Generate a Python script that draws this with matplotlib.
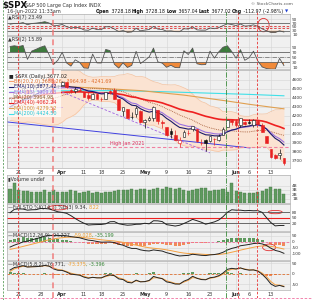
import numpy as np
import matplotlib
matplotlib.use("Agg")
import matplotlib.pyplot as plt
from matplotlib.patches import Ellipse
from matplotlib.lines import Line2D

# ---------------- data ----------------
# closes before the visible window (Jan 3 - Mar 16 2022), used for indicator warm-up
warm_closes = [4796.56, 4793.54, 4700.58, 4696.05, 4677.03, 4670.29, 4713.07, 4726.35, 4659.03, 4662.85,
               4577.11, 4532.76, 4482.73, 4397.94, 4410.13, 4356.45, 4349.93, 4326.51, 4431.85, 4515.55,
               4546.54, 4589.38, 4477.44, 4500.53, 4483.87, 4521.54, 4587.18, 4504.08, 4418.64, 4401.67,
               4471.07, 4475.01, 4380.26, 4348.87, 4304.76, 4225.50, 4288.70, 4384.65, 4373.94,
               4306.26, 4386.54, 4363.49, 4328.87, 4201.09, 4170.70, 4277.88, 4259.52, 4204.31, 4173.11,
               4262.45, 4357.86]

# visible daily candles, Mar 17 - Jun 16 2022
opens = [4345.11, 4407.34, 4462.40, 4469.10, 4493.10, 4469.98, 4522.91, 4541.09, 4602.86, 4624.20,
         4599.02, 4540.32, 4547.97, 4572.45, 4494.17, 4474.65, 4494.15, 4462.64, 4437.59, 4394.30,
         4449.12, 4385.63, 4390.63, 4472.26, 4489.17, 4385.83, 4255.34, 4278.14, 4186.52, 4222.58,
         4253.75, 4130.61, 4159.78, 4181.18, 4270.43, 4128.17, 4081.27, 4035.18, 3990.08, 3903.95,
         3963.90, 4013.02, 4052.00, 4051.98, 3899.00, 3927.76, 3919.42, 3942.94, 3929.59, 3984.60,
         4077.43, 4151.09, 4149.78, 4095.41, 4137.57, 4134.72, 4096.47, 4147.12, 4101.65, 3974.39,
         3838.15, 3763.52, 3764.05, 3728.18]
highs = [4412.67, 4465.40, 4481.75, 4522.00, 4501.07, 4520.58, 4546.03, 4575.65, 4637.30, 4627.77,
         4603.07, 4548.70, 4583.50, 4593.45, 4503.94, 4521.16, 4520.41, 4464.35, 4471.00, 4453.92,
         4460.46, 4410.31, 4471.03, 4488.29, 4512.94, 4385.83, 4299.02, 4278.14, 4240.71, 4308.45,
         4269.68, 4169.81, 4200.10, 4307.66, 4270.43, 4157.69, 4081.27, 4068.82, 4049.09, 3964.80,
         4038.88, 4046.46, 4090.72, 4051.98, 3945.96, 3943.42, 3981.88, 3955.68, 3999.33, 4075.14,
         4158.49, 4168.34, 4166.54, 4177.51, 4142.67, 4168.78, 4164.86, 4160.14, 4119.10, 3974.39,
         3838.15, 3778.18, 3837.56, 3728.18]
lows = [4335.65, 4390.57, 4424.30, 4469.10, 4455.81, 4465.17, 4501.07, 4517.69, 4589.41, 4581.32,
        4530.41, 4507.57, 4539.21, 4514.17, 4450.04, 4450.30, 4474.60, 4408.38, 4381.34, 4392.70,
        4394.59, 4370.30, 4390.63, 4448.76, 4384.47, 4267.62, 4200.82, 4175.04, 4162.90, 4188.63,
        4124.28, 4062.51, 4147.08, 4148.91, 4106.01, 4067.91, 3975.48, 3958.17, 3928.82, 3858.87,
        3963.90, 3983.99, 4033.93, 3911.91, 3876.58, 3810.32, 3909.04, 3875.13, 3925.03, 3984.60,
        4077.43, 4104.88, 4073.85, 4074.37, 4098.67, 4109.18, 4080.19, 4107.20, 4017.17, 3900.16,
        3734.30, 3722.30, 3722.30, 3657.04]
closes = [4411.67, 4463.12, 4461.18, 4511.61, 4456.24, 4520.16, 4543.06, 4575.52, 4631.60, 4602.45,
          4530.41, 4545.86, 4582.64, 4525.12, 4481.15, 4500.21, 4488.28, 4412.53, 4397.45, 4446.59,
          4392.59, 4391.69, 4462.21, 4459.45, 4393.66, 4271.78, 4296.12, 4175.20, 4183.96, 4287.50,
          4131.93, 4155.38, 4175.48, 4300.17, 4146.87, 4123.34, 3991.24, 4001.05, 3935.18, 3930.08,
          4023.89, 4008.01, 4088.85, 3923.68, 3900.79, 3901.36, 3973.75, 3941.48, 3978.73, 4057.84,
          4158.24, 4132.15, 4101.23, 4176.82, 4108.54, 4121.43, 4160.68, 4115.77, 4017.82, 3900.86,
          3749.63, 3735.48, 3789.99, 3677.02]
volumes_b = [3.1, 4.6, 2.9, 2.8, 2.8, 2.6, 2.5, 2.6, 2.9, 2.6, 3.0, 2.5, 2.5, 2.6, 2.9, 2.7,
             2.4, 2.6, 2.7, 2.4, 2.6, 2.3, 2.5, 2.6, 2.8, 3.0, 2.9, 2.9, 3.1, 3.0, 3.3, 3.3,
             3.0, 3.3, 3.5, 3.1, 3.6, 3.5, 3.3, 3.5, 3.0, 2.8, 2.9, 3.3, 3.4, 3.5, 2.8, 2.9,
             2.9, 3.1, 2.5, 4.5, 2.7, 2.5, 2.3, 2.3, 2.3, 2.5, 2.7, 3.1, 3.7, 3.3, 3.3, 2.0]

# long moving averages (day index, value)
ma100_idx = [0, 10, 20, 30, 40, 50, 55, 63]
ma100_val = [4555, 4532, 4510, 4482, 4432, 4366, 4330, 4279.52]
ma200_idx = [0, 12, 25, 35, 45, 55, 63]
ma200_val = [4470, 4480, 4482, 4470, 4455, 4440, 4424.50]

tick_pos = [2, 7, 12, 17, 21, 26, 31, 36, 41, 46, 52, 55, 60]
tick_labels = ["21", "28", "Apr", "11", "18", "25", "May", "9", "16", "23", "Jun", "6", "13"]
price_ticks = [3700, 3800, 3900, 4000, 4100, 4200, 4300, 4400, 4500, 4600]

high_jan_2021 = 3855
trend_blue = ([-0.7, 55.2], [4134, 3845])
trend_purple = ([12, 46], [4465, 3790])
hline_purple = ([-0.7, 12], [4300, 4300])
event_lines_red = [1.8, 52.4, 56.8]
event_line_pink = 9.9
event_line_green = 49.7

# ---------------- indicators ----------------
def ema(x, n):
    a = 2.0 / (n + 1)
    out = np.empty(len(x))
    out[0] = x[0]
    for i in range(1, len(x)):
        out[i] = a * x[i] + (1 - a) * out[i - 1]
    return out

def sma(x, n):
    x = np.asarray(x, float)
    out = np.full(len(x), np.nan)
    c = np.cumsum(np.insert(x, 0, 0))
    out[n - 1:] = (c[n:] - c[:-n]) / n
    return out

def rsi(x, n):
    d = np.diff(x)
    g = np.clip(d, 0, None)
    l = np.clip(-d, 0, None)
    ag, al = g[:n].mean(), l[:n].mean()
    out = np.full(len(x), np.nan)
    for i in range(n, len(x)):
        if i > n:
            ag = (ag * (n - 1) + g[i - 1]) / n
            al = (al * (n - 1) + l[i - 1]) / n
        out[i] = 100 - 100 / (1 + ag / al) if al > 0 else 100
    return out

W0 = len(warm_closes)
allc = np.array(warm_closes + closes)
allh = np.array(warm_closes + highs)
alll = np.array(warm_closes + lows)
N = len(closes)
xi = np.arange(N)
vis = slice(W0, W0 + N)

ema10 = ema(allc, 10)[vis]
ema13 = ema(allc, 13)[vis]
ma20 = sma(allc, 20)[vis]
sd20 = np.array([np.std(allc[i - 19:i + 1]) for i in range(W0, W0 + N)])
bb_up, bb_lo = ma20 + 2 * sd20, ma20 - 2 * sd20
ema40 = ema(allc, 40)[vis]
rsi7 = rsi(allc, 7)[vis]
rsi2 = rsi(allc, 2)[vis]
hh = np.array([allh[i - 13:i + 1].max() for i in range(13, len(allc))])
ll = np.array([alll[i - 13:i + 1].min() for i in range(13, len(allc))])
rawk = np.concatenate([np.full(13, 50.0), (allc[13:] - ll) / (hh - ll) * 100])
fullk = sma(rawk, 3)
fulld = sma(fullk, 3)
stok, stod = fullk[vis], fulld[vis]
m1 = ema(allc, 12) - ema(allc, 26)
s1 = ema(m1, 9)
macd1, sig1, hist1 = m1[vis], s1[vis], (m1 - s1)[vis]
m2 = ema(allc, 5) - ema(allc, 8)
s2 = ema(m2, 2)
macd2, sig2, hist2 = m2[vis], s2[vis], (m2 - s2)[vis]

# ---------------- layout ----------------
W, H = 312, 300
fig = plt.figure(figsize=(3.12, 3.0), dpi=100)
fig.patch.set_facecolor("white")
FS = 3.5
TFS = 3.1
XL = (-0.7, 64.4)
R = fig.canvas.get_renderer()

def rect(x0, y0, x1, y1):
    return [x0 / W, 1 - y1 / H, (x1 - x0) / W, (y1 - y0) / H]

def panel(y0, y1, ylim, yticks, ylabels=None, xlabels=False):
    ax = fig.add_axes(rect(7, y0, 290, y1))
    ax.set_facecolor("#f0f0f0")
    ax.set_xlim(*XL)
    ax.set_ylim(*ylim)
    ax.set_xticks(tick_pos)
    ax.set_yticks(yticks)
    ax.yaxis.tick_right()
    ax.set_yticklabels(ylabels if ylabels else [str(t) for t in yticks], fontsize=TFS, color="#333333")
    ax.tick_params(length=0, pad=1.5)
    if xlabels:
        ax.set_xticklabels(tick_labels, fontsize=FS, color="#333333")
        for t in ax.get_xticklabels():
            if t.get_text() in ("Apr", "May", "Jun"):
                t.set_fontweight("bold")
    else:
        ax.set_xticklabels([])
    ax.grid(True, color="#d4d4d4", lw=0.4)
    ax.set_axisbelow(True)
    for s in ax.spines.values():
        s.set_color("#b0b0b0")
        s.set_linewidth(0.5)
    return ax

def multi_label(ax, parts, y=0.97):
    x = 0.005
    for txt, col in parts:
        t = ax.text(x, y, txt, transform=ax.transAxes, fontsize=FS, color=col, va="top", ha="left", zorder=7)
        x += t.get_window_extent(renderer=R).width / ax.get_window_extent(renderer=R).width

# ---- header
fig.text(2 / W, 1 - 5.5 / H, "$SPX", fontsize=6.2, fontweight="bold", color="#111111", va="center")
fig.text(25 / W, 1 - 5.5 / H, "S&P 500 Large Cap Index INDX", fontsize=FS, color="#333333", va="center")
fig.text(293 / W, 1 - 4 / H, "© StockCharts.com", fontsize=3.1, color="#555555", va="center", ha="right")
fig.text(7 / W, 1 - 11.5 / H, "16-Jun-2022 11:33am", fontsize=FS, color="#333333", va="center")
hdr = [("Open", True), (" 3728.18 ", False), ("High", True), (" 3728.18 ", False), ("Low", True),
       (" 3657.04 ", False), ("Last", True), (" 3677.02 ", False), ("Chg", True), (" -112.97 (-2.98%) ", False)]
xx = 96 / W
for s, b in hdr:
    t = fig.text(xx, 1 - 11.5 / H, s, fontsize=3.35, color="#111111", va="center",
                 fontweight="bold" if b else "normal")
    xx += t.get_window_extent(renderer=R).width / W
fig.text(xx, 1 - 11.5 / H, "▼", fontsize=3.0, color="#2040d0", va="center")

# ---- RSI(7)
ax1 = panel(14, 35, (8, 118), [10, 30, 50, 70, 90])
ax1.axhline(70, color="#666666", lw=0.6)
ax1.axhline(30, color="#666666", lw=0.6)
ax1.axhline(55, color="#e03030", lw=0.6, ls=(0, (3, 2)))
ax1.axhline(45, color="#e03030", lw=0.6, ls=(0, (3, 2)))
ax1.fill_between(xi, rsi7, 70, where=rsi7 > 70, color="#3d7a3d", interpolate=True, lw=0)
ax1.fill_between(xi, rsi7, 30, where=rsi7 < 30, color="#f08a3a", interpolate=True, lw=0)
ax1.plot(xi, rsi7, color="#555555", lw=0.6)
multi_label(ax1, [("▲RSI(7) 23.49", "#333333")])
ax1.add_patch(Ellipse((58.3, 60), 2.6, 70, fill=False, ec="#e03030", lw=0.6))

# ---- RSI(2)
ax2 = panel(36, 69, (2, 136), [10, 30, 50, 70, 90])
ax2.axhline(70, color="#666666", lw=0.6)
ax2.axhline(30, color="#666666", lw=0.6)
ax2.axhline(50, color="#666666", lw=0.5, ls="-.")
ax2.fill_between(xi, rsi2, 70, where=rsi2 > 70, color="#3d7a3d", interpolate=True, lw=0)
ax2.fill_between(xi, rsi2, 30, where=rsi2 < 30, color="#f08a3a", interpolate=True, lw=0)
ax2.plot(xi, rsi2, color="#555555", lw=0.6)
multi_label(ax2, [("▲RSI(2) 15.89", "#333333")])

# ---- price
ax3 = panel(70, 168, (3622, 4711), price_ticks, xlabels=True)
ax3.tick_params(axis="x", pad=1.5)
ax3.fill_between(xi, bb_lo, bb_up, color="#fbe3d2", lw=0)
ax3.plot(xi, bb_up, color="#f5c3a0", lw=0.5)
ax3.plot(xi, bb_lo, color="#f5c3a0", lw=0.5)
ax3.plot(ma200_idx, ma200_val, color="#40e0e8", lw=0.8)
ax3.plot(ma100_idx, ma100_val, color="#e0a050", lw=0.8)
ax3.plot(xi, ma20, color="#a0522d", lw=0.6, ls=(0, (1, 1.2)))
ax3.plot(xi, ema40, color="#ee2020", lw=1.2)
ax3.plot(xi, ema13, color="#9a70e0", lw=0.8)
ax3.plot(xi, ema10, color="#1a1a6a", lw=0.8)
ax3.plot(*trend_blue, color="#4040e0", lw=0.7)
ax3.plot(*trend_purple, color="#a060e0", lw=0.6, ls=(0, (3, 2)))
ax3.plot(*hline_purple, color="#b070e8", lw=0.6, ls=(0, (1, 1.5)))
ax3.axhline(high_jan_2021, color="#f080a0", lw=0.8, ls=(0, (3, 2)))
ax3.text(23, high_jan_2021 + 12, "High Jan 2021", fontsize=FS, color="#e03060", va="bottom")
o, h, l, c = map(np.array, (opens, highs, lows, closes))
prev = np.concatenate([[warm_closes[-1]], c[:-1]])
col = np.where(c < prev, "#e82020", "#111111")
face = np.where(c < o, col, "white")
ax3.vlines(xi, l, h, colors=col, lw=0.5, zorder=3)
ax3.bar(xi, np.maximum(np.abs(c - o), 3), bottom=np.minimum(o, c), width=0.62,
        color=face, edgecolor=col, lw=0.4, zorder=4)
ax3.add_patch(plt.Rectangle((0.0, 0.52), 0.19, 0.48, transform=ax3.transAxes, color="white",
                            alpha=0.7, lw=0, zorder=5))
leg = [("■ $SPX (Daily) 3677.02", "#222222", None, None),
       ("BB(20,2.0) 3688.26 - 3964.98 - 4241.69", "#e07030", "#f5a070", "-"),
       ("EMA(10) 3877.42", "#1a1a6a", "#1a1a6a", "-"),
       ("EMA(13) 3909.63", "#9a70e0", "#9a70e0", "-"),
       ("MA(20) 3964.98", "#8b5a2b", "#a0522d", ":"),
       ("EMA(40) 4062.24", "#e82020", "#e82020", "-"),
       ("MA(100) 4279.52", "#d09030", "#e0a050", "-"),
       ("MA(200) 4424.50", "#20c8d8", "#40e0e8", "-")]
for k, (txt, tc, lc, ls) in enumerate(leg):
    yy = 76 + k * 5.4
    xt = 9 if lc is None else 14
    fig.text(xt / W, 1 - yy / H, txt, fontsize=FS, color=tc, va="center", zorder=6)
    if lc is not None:
        fig.add_artist(Line2D([9 / W, 13 / W], [1 - yy / H] * 2, color=lc, lw=0.8, ls=ls))

# ---- volume
ax4 = panel(175, 203, (0, 6.4), [1, 2, 3, 4], ["1B", "2B", "3B", "4B"])
ax4.bar(xi, volumes_b, width=0.72, color="#5f9a5f", edgecolor="#4a7a4a", lw=0.3)
multi_label(ax4, [("▮Volume undef", "#333333")])

# ---- Full STO
ax5 = panel(204, 231, (-23, 124), [20, 50, 80])
ax5.axhline(80, color="#555555", lw=0.6)
ax5.axhline(20, color="#555555", lw=0.6)
ax5.axhline(50, color="#ee2020", lw=0.8)
ax5.plot(xi, stod, color="#f5a040", lw=0.7)
ax5.plot(xi, stok, color="#222222", lw=0.7)
multi_label(ax5, [("—Full STO %K(14,3) %D(3) 9.34, ", "#333333"), ("8.22", "#f0a030")])
ax5.add_patch(Ellipse((11.0, 104), 4.5, 24, fill=False, ec="#e03030", lw=0.6))
ax5.add_patch(Ellipse((61.0, 80), 3.2, 18, fill=False, ec="#e03030", lw=0.6))

# ---- MACD(12,26,9)
ax6 = panel(232, 260, (-150, 83), [-100, -50, 0, 50])
ax6.bar(xi, hist1, width=0.7, color=np.where(hist1 >= 0, "#5f9a5f", "#f08a5a"), lw=0)
ax6.axhline(0, color="#f070a0", lw=0.6, ls=(0, (3, 2)))
ax6.plot(xi, sig1, color="#f5a040", lw=0.7)
ax6.plot(xi, macd1, color="#222222", lw=0.7)
multi_label(ax6, [("—MACD(12,26,9) -94.227, ", "#333333"), ("-59.028", "#f0a030"), (", -35.199", "#3d8a3d")])
ax6.add_patch(Ellipse((59.6, -45), 3.0, 55, fill=False, ec="#e03030", lw=0.6))

# ---- MACD(5,8,2)
ax7 = panel(261, 290, (-77, 61), [-50, 0, 50], xlabels=True)
ax7.bar(xi, hist2, width=0.7, color=np.where(hist2 >= 0, "#5f9a5f", "#f08a5a"), lw=0)
ax7.axhline(0, color="#e07030", lw=0.6, ls=(0, (3, 2)))
ax7.plot(xi, sig2, color="#f5a040", lw=0.7)
ax7.plot(xi, macd2, color="#222222", lw=0.7)
multi_label(ax7, [("—MACD(5,8,2) -76.771, ", "#333333"), ("-73.375", "#f0a030"), (", -3.396", "#3d8a3d")])

# ---- event lines across all panels
ov = fig.add_axes(rect(7, 12, 290, 298))
ov.set_xlim(*XL)
ov.set_ylim(0, 1)
ov.axis("off")
ov.patch.set_alpha(0)
for xv in event_lines_red:
    ov.axvline(xv, color="#e83030", lw=0.6, ls=(0, (3, 2)))
ov.axvline(event_line_pink, color="#f07070", lw=1.4, ls=(0, (3, 2)), alpha=0.7)
ov.axvline(event_line_green, color="#3a8a3a", lw=0.6, ls="-.")
fig.add_artist(Line2D([3 / W, 3 / W], [0, 1], color="#3a8a3a", lw=0.5, ls=(0, (3, 2))))
fig.add_artist(Line2D([0, 1], [1 - 298 / H] * 2, color="#f070a0", lw=0.6, ls=(0, (3, 2))))

fig.savefig("out.png", dpi=100)
